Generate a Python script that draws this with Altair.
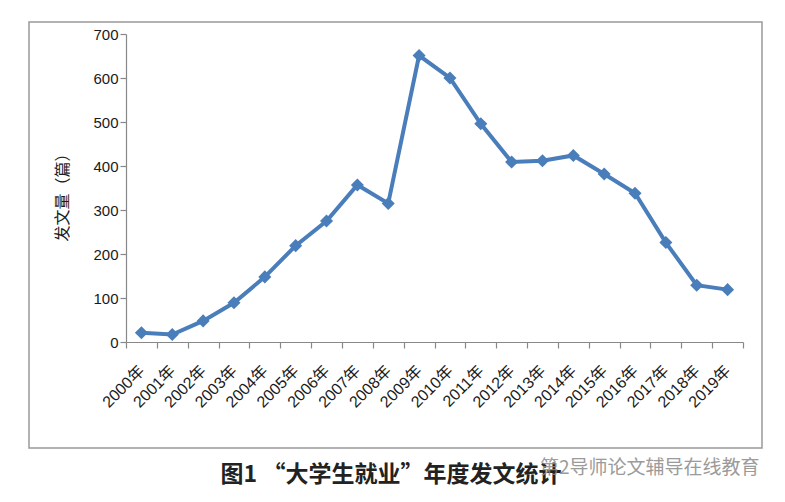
import altair as alt
import pandas as pd

years = [f"{y}年" for y in range(2000, 2020)]
counts = [21, 17, 48, 89, 148, 219, 275, 357, 315, 651,
          600, 496, 409, 412, 424, 382, 338, 226, 129, 119]

df = pd.DataFrame({"year": years, "count": counts})

FONT = "Liberation Sans, Noto Sans CJK SC"
BLUE = "#4a7ebb"

x = alt.X("year:N", sort=years, title=None,
          scale=alt.Scale(paddingInner=0, paddingOuter=0),
          axis=alt.Axis(labelAngle=-45, labelAlign="right", labelBaseline="middle",
                        labelPadding=20, labelFontSize=16, labelFont=FONT,
                        labelColor="#1a1a1a", tickBand="extent", tickSize=6,
                        tickColor="#888888", domainColor="#888888",
                        domainWidth=1.2, tickWidth=1.2, grid=False))
y = alt.Y("count:Q", title="发文量（篇）",
          scale=alt.Scale(domain=[0, 700], nice=False),
          axis=alt.Axis(values=list(range(0, 701, 100)), labelFontSize=15,
                        labelFont=FONT, labelColor="#1a1a1a", tickSize=6,
                        tickColor="#888888", domainColor="#888888",
                        domainWidth=1.2, tickWidth=1.2, grid=False,
                        titleFont="Noto Sans CJK SC", titleFontSize=16,
                        titleFontWeight="normal", titleColor="#1a1a1a",
                        titleX=-56, titleY=159, titleAngle=-90))

border = alt.Chart(pd.DataFrame({"a": [0]})).mark_rect(
    fill=None, stroke="#999999", strokeWidth=1.5
).encode(x=alt.value(-97), x2=alt.value(636), y=alt.value(-12), y2=alt.value(414))

line = alt.Chart(df).mark_line(color=BLUE, strokeWidth=4).encode(x=x, y=y)
pts = alt.Chart(df).mark_point(shape="diamond", filled=True, color=BLUE,
                               size=170, opacity=1).encode(x=x, y=y)

title = alt.Chart(pd.DataFrame({"t": ["图1 “大学生就业”年度发文统计"]})).mark_text(
    font="Noto Sans CJK SC", fontSize=23, fontWeight="bold", color="#222222",
    align="center", baseline="middle"
).encode(text="t:N", x=alt.value(265), y=alt.value(441))

wm = alt.Chart(pd.DataFrame({"t": ["第2导师论文辅导在线教育"]})).mark_text(
    font="Noto Sans CJK SC", fontSize=19, color="#8a8a8a", opacity=0.85,
    align="left", baseline="middle"
).encode(text="t:N", x=alt.value(414), y=alt.value(434))

chart = alt.layer(border, line, pts, title, wm).properties(
    width=617, height=308,
    padding={"left": 118, "top": 26, "right": 34, "bottom": 144},
    autosize=alt.AutoSizeParams(type="none"),
    background="white",
).configure_view(stroke=None)

chart.save("out.html", embed_options={"renderer": "svg", "actions": False})
